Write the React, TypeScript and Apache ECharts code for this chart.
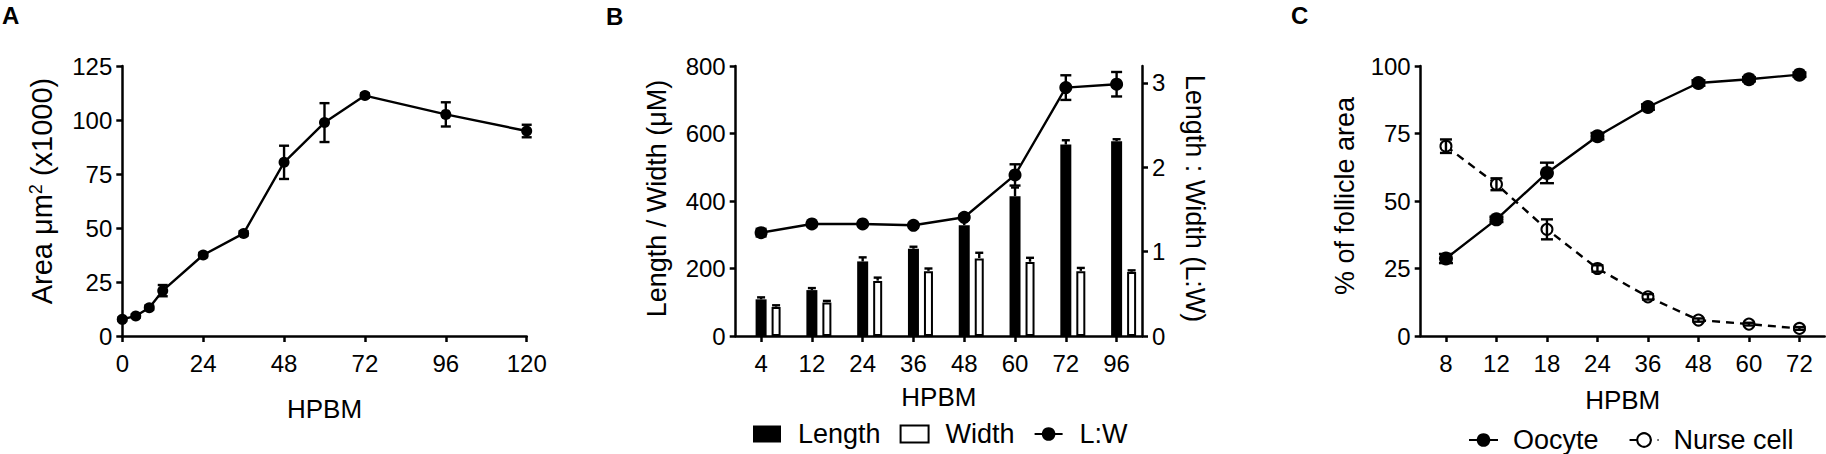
import React, { useEffect, useRef } from 'react';
import * as echarts from 'echarts';

const FONT = 'Liberation Sans, Arial, Helvetica, sans-serif';

// Panel A
const hpbmA = [0, 4, 8, 12, 24, 36, 48, 60, 72, 96, 120];
const areaA = [7.7, 9.3, 13.1, 21.0, 37.5, 47.5, 80.4, 98.8, 111.3, 102.6, 94.9];
const areaErrA = [0.8, 0.8, 1.0, 2.6, 1.0, 1.0, 7.7, 9.0, 1.0, 5.6, 2.9];

// Panel B
const categoriesB = ['4', '12', '24', '36', '48', '60', '72', '96'];
const lengthB = [108.6, 136, 221, 258.5, 328.5, 414.3, 567.3, 577];
const lengthErrB = [5.9, 6, 12, 6, 19.5, 25.7, 12.7, 6];
const widthB = [86, 99, 163, 192, 230, 219, 192, 189.5];
const widthErrB = [5, 5, 10, 8, 16.6, 12.7, 9.7, 5];
const ratioB = [1.225, 1.328, 1.328, 1.312, 1.407, 1.909, 2.944, 2.984];
const ratioErrB = [0.045, 0.02, 0.02, 0.02, 0.03, 0.126, 0.146, 0.145];
const ratioTicks = [0, 1, 2, 3];

// Panel C
const categoriesC = ['8', '12', '18', '24', '36', '48', '60', '72'];
const oocyteC = [28.7, 43.2, 60.4, 74.0, 84.8, 93.7, 95.1, 96.8];
const oocyteErrC = [1.7, 1.0, 3.8, 1.2, 1.0, 1.0, 0.8, 0.8];
const nurseC = [70.3, 56.2, 39.5, 25.0, 14.5, 5.9, 4.4, 2.8];
const nurseErrC = [2.5, 2.2, 3.7, 1.2, 1.0, 0.6, 0.5, 0.5];

const LW = 2.4;

function errRender(capW: number, both: boolean) {
  return (params: any, api: any) => {
    const x = api.value(0);
    const lo = api.coord([x, api.value(1)]);
    const hi = api.coord([x, api.value(2)]);
    const style = { stroke: '#000', lineWidth: LW };
    const children: any[] = [
      { type: 'line', shape: { x1: lo[0], y1: lo[1], x2: hi[0], y2: hi[1] }, style },
      { type: 'line', shape: { x1: hi[0] - capW / 2, y1: hi[1], x2: hi[0] + capW / 2, y2: hi[1] }, style },
    ];
    if (both) {
      children.push({ type: 'line', shape: { x1: lo[0] - capW / 2, y1: lo[1], x2: lo[0] + capW / 2, y2: lo[1] }, style });
    }
    return { type: 'group', children };
  };
}

const axisBase = (labelMargin: number) => ({
  axisLine: { show: true, onZero: false, lineStyle: { color: '#000', width: 2.5 } },
  axisTick: { show: true, length: 6, inside: false, lineStyle: { color: '#000', width: 2.5 } },
  axisLabel: { color: '#000', fontSize: 24, fontFamily: FONT, margin: labelMargin },
  splitLine: { show: false },
  nameMoveOverlap: false,
});

const GRID_TOP = 66;
const GRID_H = 270;

function buildOption(): any {
  return {
    animation: false,
    backgroundColor: '#fff',
    textStyle: { fontFamily: FONT, color: '#000' },
    grid: [
      { left: 122.3, top: GRID_TOP, width: 404.4, height: GRID_H, outerBoundsMode: 'none', containLabel: false },
      { left: 735.7, top: GRID_TOP, width: 406.3, height: GRID_H, outerBoundsMode: 'none', containLabel: false },
      { left: 1420.7, top: GRID_TOP, width: 404, height: GRID_H, outerBoundsMode: 'none', containLabel: false },
      { left: 750.7, top: GRID_TOP, width: 406.3, height: GRID_H, outerBoundsMode: 'none', containLabel: false },
    ],
    xAxis: [
      {
        ...axisBase(15),
        type: 'value', gridIndex: 0, min: 0, max: 120, interval: 24,
        name: 'HPBM', nameLocation: 'middle', nameGap: 60,
        nameTextStyle: { fontSize: 26, fontFamily: FONT, color: '#000' },
      },
      {
        ...axisBase(15),
        type: 'category', gridIndex: 1, data: categoriesB,
        axisTick: { show: true, length: 6, alignWithLabel: true, lineStyle: { color: '#000', width: 2.5 } },
        name: 'HPBM', nameLocation: 'middle', nameGap: 48,
        nameTextStyle: { fontSize: 26, fontFamily: FONT, color: '#000' },
      },
      {
        ...axisBase(15),
        type: 'category', gridIndex: 2, data: categoriesC,
        axisTick: { show: true, length: 6, alignWithLabel: true, lineStyle: { color: '#000', width: 2.5 } },
        name: 'HPBM', nameLocation: 'middle', nameGap: 51,
        nameTextStyle: { fontSize: 26, fontFamily: FONT, color: '#000' },
      },
      { type: 'category', gridIndex: 3, data: categoriesB, show: false },
    ],
    yAxis: [
      {
        ...axisBase(10),
        type: 'value', gridIndex: 0, min: 0, max: 125, interval: 25,
        name: 'Area μm{sup|2} (x1000)', nameLocation: 'middle', nameRotate: 90, nameGap: 66,
        nameTextStyle: {
          fontSize: 29, fontFamily: FONT, color: '#000', padding: [0, 0, 0, 20],
          rich: { sup: { fontSize: 18, fontFamily: FONT, color: '#000', verticalAlign: 'top', lineHeight: 18 } },
        },
      },
      {
        ...axisBase(10),
        type: 'value', gridIndex: 1, min: 0, max: 800, interval: 200,
        name: 'Length / Width (μM)', nameLocation: 'middle', nameRotate: 90, nameGap: 65,
        nameTextStyle: { fontSize: 27, fontFamily: FONT, color: '#000', padding: [0, 0, 0, 5] },
      },
      {
        ...axisBase(10),
        type: 'value', gridIndex: 1, position: 'right', min: 0, max: 3.2,
        axisLabel: { color: '#000', fontSize: 24, fontFamily: FONT, margin: 10, customValues: ratioTicks },
        axisTick: { show: true, length: 6, lineStyle: { color: '#000', width: 2.5 }, customValues: ratioTicks },
        name: 'Length : Width (L:W)', nameLocation: 'middle', nameRotate: -90, nameGap: 39,
        nameTextStyle: { fontSize: 27, fontFamily: FONT, color: '#000', padding: [0, 5, 0, 0] },
      },
      {
        ...axisBase(10),
        type: 'value', gridIndex: 2, min: 0, max: 100, interval: 25,
        name: '% of follicle area', nameLocation: 'middle', nameRotate: 90, nameGap: 62,
        nameTextStyle: { fontSize: 27, fontFamily: FONT, color: '#000', padding: [0, 0, 0, 10] },
      },
      { type: 'value', gridIndex: 3, min: 0, max: 800, show: false },
    ],
    legend: [
      {
        left: 753, top: 419, padding: 0, itemWidth: 28, itemHeight: 17, itemGap: 19,
        textStyle: { fontSize: 27, fontFamily: FONT, color: '#000', lineHeight: 30, padding: [0, 0, 0, 12] },
        data: [
          { name: 'Length', icon: 'rect' },
          { name: 'Width', icon: 'rect', itemStyle: { color: '#fff', borderColor: '#000', borderWidth: 2 } },
          { name: 'L:W' },
        ],
      },
      {
        left: 1468, top: 425, padding: 0, itemWidth: 29, itemHeight: 17, itemGap: 30,
        textStyle: { fontSize: 27, fontFamily: FONT, color: '#000', lineHeight: 30, padding: [0, 0, 0, 10] },
        data: [{ name: 'Oocyte' }, { name: 'Nurse cell' }],
      },
    ],
    graphic: [
      { type: 'text', left: 2, top: 3, style: { text: 'A', fontSize: 24, fontWeight: 'bold', fontFamily: FONT, fill: '#000' } },
      { type: 'text', left: 606, top: 4, style: { text: 'B', fontSize: 24, fontWeight: 'bold', fontFamily: FONT, fill: '#000' } },
      { type: 'text', left: 1291, top: 3, style: { text: 'C', fontSize: 24, fontWeight: 'bold', fontFamily: FONT, fill: '#000' } },
    ],
    series: [
      // Panel A
      {
        name: 'Area', type: 'line', xAxisIndex: 0, yAxisIndex: 0,
        data: hpbmA.map((h, i) => [h, areaA[i]]),
        symbol: 'circle', symbolSize: 11,
        itemStyle: { color: '#000' }, lineStyle: { color: '#000', width: LW }, z: 3,
      },
      {
        name: 'AreaErr', type: 'custom', xAxisIndex: 0, yAxisIndex: 0,
        data: hpbmA.map((h, i) => [h, areaA[i] - areaErrA[i], areaA[i] + areaErrA[i]]),
        encode: { x: 0, y: [1, 2] }, renderItem: errRender(10, true), z: 4,
      },
      // Panel B
      {
        name: 'Length', type: 'bar', xAxisIndex: 1, yAxisIndex: 1, data: lengthB,
        barWidth: 11, itemStyle: { color: '#000' }, z: 2,
      },
      {
        name: 'LengthErr', type: 'custom', xAxisIndex: 1, yAxisIndex: 1,
        data: categoriesB.map((c, i) => [c, lengthB[i], lengthB[i] + lengthErrB[i]]),
        encode: { x: 0, y: [1, 2] }, renderItem: errRender(8, false), z: 2,
      },
      {
        name: 'Width', type: 'bar', xAxisIndex: 3, yAxisIndex: 4, data: widthB,
        barWidth: 9, itemStyle: { color: '#fff', borderColor: '#000', borderWidth: 2 }, z: 2,
      },
      {
        name: 'WidthErr', type: 'custom', xAxisIndex: 3, yAxisIndex: 4,
        data: categoriesB.map((c, i) => [c, widthB[i] + 1, widthB[i] + widthErrB[i]]),
        encode: { x: 0, y: [1, 2] }, renderItem: errRender(8, false), z: 2,
      },
      {
        name: 'L:W', type: 'line', xAxisIndex: 1, yAxisIndex: 2, data: ratioB,
        symbol: 'circle', symbolSize: 13,
        itemStyle: { color: '#000' }, lineStyle: { color: '#000', width: LW }, z: 5,
      },
      {
        name: 'L:WErr', type: 'custom', xAxisIndex: 1, yAxisIndex: 2,
        data: categoriesB.map((c, i) => [c, ratioB[i] - ratioErrB[i], ratioB[i] + ratioErrB[i]]),
        encode: { x: 0, y: [1, 2] }, renderItem: errRender(11, true), z: 6,
      },
      // Panel C
      {
        name: 'Oocyte', type: 'line', xAxisIndex: 2, yAxisIndex: 3, data: oocyteC,
        symbol: 'circle', symbolSize: 14,
        itemStyle: { color: '#000' }, lineStyle: { color: '#000', width: LW }, z: 3,
      },
      {
        name: 'OocyteErr', type: 'custom', xAxisIndex: 2, yAxisIndex: 3,
        data: categoriesC.map((c, i) => [c, oocyteC[i] - oocyteErrC[i], oocyteC[i] + oocyteErrC[i]]),
        encode: { x: 0, y: [1, 2] }, renderItem: errRender(14, true), z: 4,
      },
      {
        name: 'Nurse cell', type: 'line', xAxisIndex: 2, yAxisIndex: 3, data: nurseC,
        symbol: 'circle', symbolSize: 11,
        itemStyle: { color: '#fff', borderColor: '#000', borderWidth: 2 },
        lineStyle: { color: '#000', width: LW, type: [8, 6] }, z: 3,
      },
      {
        name: 'NurseErr', type: 'custom', xAxisIndex: 2, yAxisIndex: 3,
        data: categoriesC.map((c, i) => [c, nurseC[i] - nurseErrC[i], nurseC[i] + nurseErrC[i]]),
        encode: { x: 0, y: [1, 2] }, renderItem: errRender(12, true), z: 4,
      },
    ],
  };
}

export default function App() {
  const ref = useRef<HTMLDivElement>(null);
  useEffect(() => {
    document.body.style.margin = '0';
    const chart = echarts.init(ref.current as HTMLDivElement, null, { renderer: 'svg' });
    chart.setOption(buildOption());
    return () => chart.dispose();
  }, []);
  return <div ref={ref} style={{ width: 1826, height: 454 }} />;
}
